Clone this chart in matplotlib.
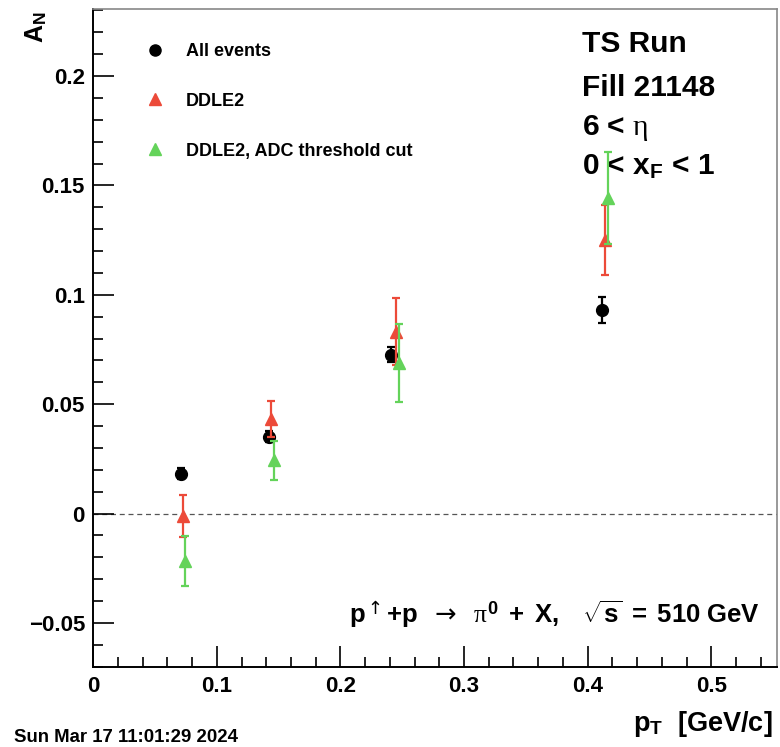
import matplotlib
matplotlib.use("Agg")
import matplotlib.pyplot as plt
from matplotlib.lines import Line2D
from matplotlib.ticker import MultipleLocator

plt.rcParams['font.family'] = ['Liberation Sans', 'DejaVu Sans']
plt.rcParams['mathtext.fontset'] = 'custom'
plt.rcParams['mathtext.rm'] = 'Liberation Sans:bold'
plt.rcParams['mathtext.bf'] = 'Liberation Sans:bold'
plt.rcParams['mathtext.it'] = 'Liberation Serif'
plt.rcParams['mathtext.sf'] = 'Liberation Sans:bold'
plt.rcParams['mathtext.tt'] = 'DejaVu Sans'

# ---- data ----
pt_all = [0.0708, 0.142, 0.241, 0.412]
an_all = [0.0183, 0.0352, 0.0726, 0.0930]
err_all = [0.0025, 0.0025, 0.0035, 0.0060]

pt_ddle2 = [0.0724, 0.1436, 0.2447, 0.4140]
an_ddle2 = [-0.0012, 0.0434, 0.0832, 0.1251]
err_ddle2 = [0.0095, 0.0082, 0.0152, 0.0160]

pt_adc = [0.0740, 0.1460, 0.2474, 0.4165]
an_adc = [-0.0218, 0.0243, 0.0688, 0.1442]
err_adc = [0.0115, 0.0090, 0.0180, 0.0210]

labels = ["All events", "DDLE2", "DDLE2, ADC threshold cut"]
RED = '#ec4a39'
GREEN = '#64d35a'

fig = plt.figure(figsize=(7.8, 7.47), dpi=100)
ax = fig.add_axes([0.1196, 0.1075, 0.8762, 0.88])

ax.set_xlim(0, 0.553)
ax.set_ylim(-0.07, 0.2305)

ax.axhline(0, color='#555555', lw=0.9, ls=(0, (4, 3)), zorder=1)

ax.errorbar(pt_all, an_all, yerr=err_all, fmt='o', color='black', ms=8.5,
            elinewidth=1.6, capsize=3, capthick=1.6, zorder=3)
ax.errorbar(pt_ddle2, an_ddle2, yerr=err_ddle2, fmt='^', color=RED, ms=9,
            elinewidth=1.6, capsize=3, capthick=1.6, zorder=4)
ax.errorbar(pt_adc, an_adc, yerr=err_adc, fmt='^', color=GREEN, ms=9,
            elinewidth=1.6, capsize=3, capthick=1.6, zorder=5)

handles = [Line2D([], [], ls='none', marker='o', color='black', ms=8),
           Line2D([], [], ls='none', marker='^', color=RED, ms=8),
           Line2D([], [], ls='none', marker='^', color=GREEN, ms=8)]
leg = ax.legend(handles, labels, loc='upper left', bbox_to_anchor=(0.0764, 0.949),
                frameon=False, prop={'size': 13, 'weight': 'bold'},
                labelspacing=1.82, handlelength=1.0, handletextpad=1.25,
                borderaxespad=0.0, borderpad=0.0)

# ticks
ax.xaxis.set_major_locator(MultipleLocator(0.1))
ax.xaxis.set_minor_locator(MultipleLocator(0.02))
ax.yaxis.set_major_locator(MultipleLocator(0.05))
ax.yaxis.set_minor_locator(MultipleLocator(0.01))
ax.tick_params(which='both', direction='in', top=False, right=False, width=1.2)
ax.tick_params(which='major', length=15, labelsize=16)
ax.tick_params(axis='x', which='major', pad=7)
ax.tick_params(axis='y', which='major', pad=6)
ax.tick_params(which='minor', length=7)
fmt = plt.FuncFormatter(lambda v, p: ('%g' % round(v, 3)).replace('-', '\u2212'))
ax.xaxis.set_major_formatter(fmt)
ax.yaxis.set_major_formatter(fmt)
for lbl in ax.get_xticklabels() + ax.get_yticklabels():
    lbl.set_fontweight('bold')

for s in ['left', 'bottom']:
    ax.spines[s].set_linewidth(1.4)
    ax.spines[s].set_color('black')
for s in ['top', 'right']:
    ax.spines[s].set_linewidth(1.2)
    ax.spines[s].set_color('#888888')

# axis labels
fig.text(0.99, 0.022, r"p$_{\mathrm{T}}$  [GeV/c]", ha='right', va='baseline',
         fontsize=19.5, fontweight='bold')
fig.text(0.047, 0.985, r"A$_{\mathrm{N}}$", ha='center', va='top', rotation=90,
         fontsize=18, fontweight='bold')

# annotations
tx = 0.715
fs = 21.5
ax.text(tx, 0.948, "TS Run", transform=ax.transAxes, fontsize=fs, va='center', ha='left', fontweight='bold')
ax.text(tx, 0.881, "Fill 21148", transform=ax.transAxes, fontsize=fs, va='center', ha='left', fontweight='bold')
ax.text(tx, 0.819, r"6 < $\eta$", transform=ax.transAxes, fontsize=fs, va='center', ha='left', fontweight='bold')
ax.text(tx, 0.760, r"0 < x$_{\mathrm{F}}$ < 1", transform=ax.transAxes, fontsize=fs, va='center', ha='left', fontweight='bold')

ax.text(0.9755, 0.08,
        r"$\mathrm{p}^{\mathtt{\uparrow}}\mathrm{+p}\ \ \mathtt{\rightarrow}\ \ \pi^{0}\mathrm{\ +\ X,}\ \ \ \sqrt{\mathrm{s}}\mathrm{\ =\ 510\ GeV}$",
        transform=ax.transAxes, fontsize=18.5, ha='right', va='center')

fig.text(0.018, 0.007, "Sun Mar 17 11:01:29 2024", fontsize=13.4, ha='left', va='baseline',
         fontweight='bold')

fig.savefig("out.png", dpi=100)
